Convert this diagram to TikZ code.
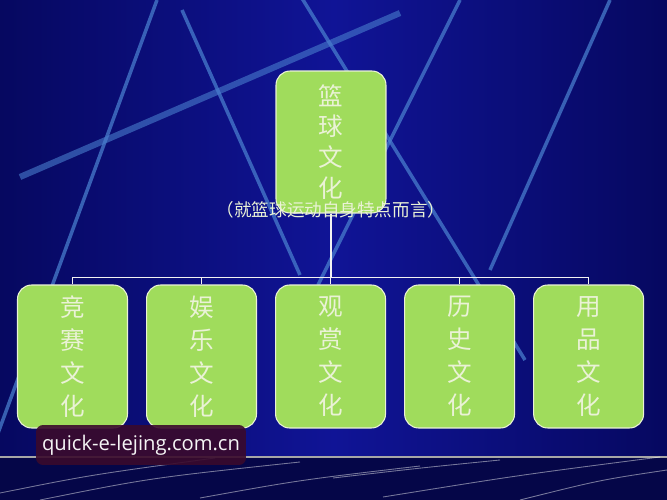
\documentclass[tikz,border=0pt]{standalone}
\usepackage{fontspec}
\usepackage{tikz}
\usetikzlibrary{positioning,calc}
\newfontfamily\cjk{Noto Sans CJK SC}
\newfontfamily\wmfont{Open Sans}
\definecolor{bgblue}{RGB}{16,20,150}
\definecolor{bgdark}{RGB}{6,8,96}
\definecolor{streak}{RGB}{72,125,205}
\definecolor{boxgreen}{RGB}{160,220,92}
\definecolor{boxtext}{RGB}{234,242,214}
\definecolor{wmred}{RGB}{58,10,44}
\tikzstyle{culturebox}=[draw=boxtext, line width=0.6pt, fill=boxgreen, rounded corners=8pt, minimum width=2.2cm, minimum height=2.86cm, text=boxtext, align=center, inner sep=0pt, font=\cjk\fontsize{14}{18.8}\selectfont]
\tikzstyle{bgline}=[streak, line width=2pt, opacity=.75]
\tikzstyle{streakline}=[white, line width=.5pt, opacity=.45]
\tikzstyle{branch}=[draw=white!90!gray, line width=0.9pt]

\begin{document}
\begin{tikzpicture}[x=0.02cm, y=-0.02cm, node distance=0.36cm]
	\useasboundingbox (0,0) rectangle (667,500);
	\shade[left color=bgdark, right color=bgdark, middle color=bgblue] (0,0) rectangle (667,457);
	\fill[bgdark!75!black] (0,457) rectangle (667,500);
	\draw[gray!70, line width=1pt] (0,457) -- (667,457);
	\draw[bgline] (157,0) -- (-10,455);
	\draw[bgline] (182,10) -- (300,275);
	\draw[bgline, line width=3.5pt, opacity=.6] (400,13) -- (20,177);
	\draw[bgline] (300,-5) -- (525,360);
	\draw[bgline] (460,0) -- (318,285);
	\draw[bgline] (610,0) -- (490,270);
	\draw[streakline] (0,493) .. controls (90,475) .. (215,458);
	\draw[streakline] (40,500) .. controls (150,478) .. (300,462);
	\draw[streakline] (200,498) .. controls (300,480) .. (420,466);
	\draw[streakline] (333,478) .. controls (420,468) .. (500,460);
	\draw[streakline] (383,497) .. controls (520,475) .. (660,457);
	\draw[streakline] (520,500) .. controls (600,480) .. (667,470);
	\node[culturebox, minimum height=2.84cm, font=\cjk\fontsize{14}{17.6}\selectfont] (top) at (331,142) {篮\\球\\文\\化};
	\node[culturebox] (jingsai) at (72.5,356.5) {竞\\赛\\文\\化};
	\node[culturebox, right=of jingsai] (yule) {娱\\乐\\文\\化};
	\node[culturebox, right=of yule] (guanshang) {观\\赏\\文\\化};
	\node[culturebox, right=of guanshang] (lishi) {历\\史\\文\\化};
	\node[culturebox, right=of lishi] (yongpin) {用\\品\\文\\化};
	\foreach \c in {jingsai,yule,guanshang,lishi,yongpin}
		\draw[branch] (top.south) -- ++(0,64) -| (\c.north);
	\node[text=boxtext, font=\cjk\fontsize{10}{12}\selectfont] (note) at (331,210) {（就篮球运动自身特点而言）};
	\node[fill=wmred, fill opacity=.9, text opacity=1, rounded corners=4pt, minimum width=4.2cm, minimum height=0.8cm, text=white!92!gray, font=\wmfont\fontsize{11.5}{14}\selectfont] (mark) at (141,445) {quick-e-lejing.com.cn};
\end{tikzpicture}
\end{document}
